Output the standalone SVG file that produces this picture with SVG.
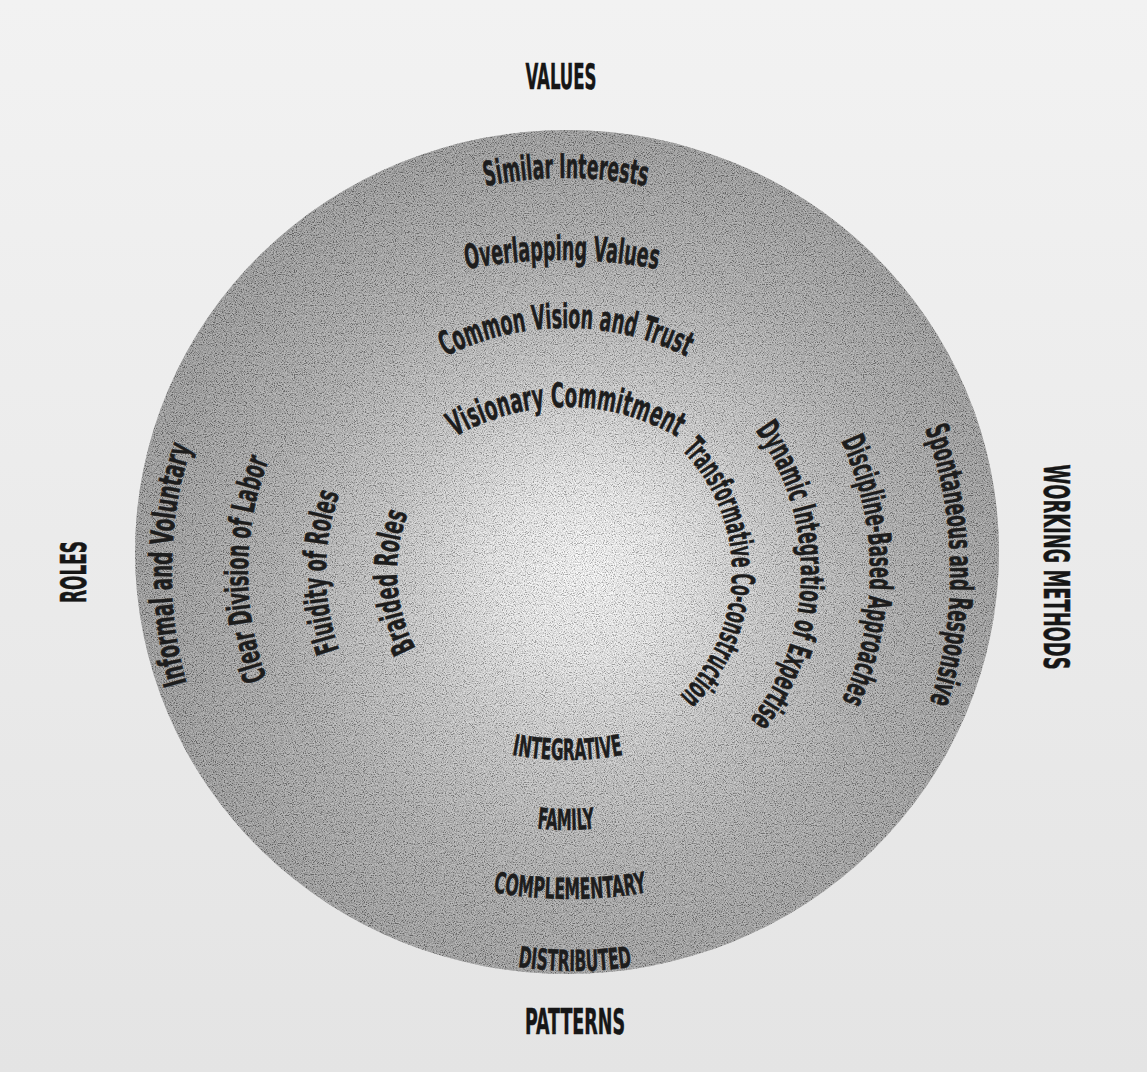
<svg xmlns="http://www.w3.org/2000/svg" xmlns:xlink="http://www.w3.org/1999/xlink" width="1147" height="1072" viewBox="0 0 1147 1072">
<style>
.t{font-family:"DejaVu Sans Condensed","Liberation Sans Narrow","Liberation Sans",sans-serif;font-stretch:condensed;font-weight:bold;fill:#1d1d1d;stroke:#1d1d1d;stroke-width:0.5px}
.top{font-size:34px}
.side{font-size:32px}
.bot{font-size:29px}
.outer{font-size:36px;fill:#161616;stroke:#161616}
</style>
<defs>
<linearGradient id="page" x1="0" y1="0" x2="0" y2="1">
<stop offset="0" stop-color="#f2f2f2"/>
<stop offset="1" stop-color="#e4e4e4"/>
</linearGradient>
<radialGradient id="disc" gradientUnits="userSpaceOnUse" cx="585" cy="568" r="432">
<stop offset="0" stop-color="#ffffff"/>
<stop offset="0.2" stop-color="#ededed"/>
<stop offset="0.45" stop-color="#c3c3c3"/>
<stop offset="0.72" stop-color="#a3a3a3"/>
<stop offset="1" stop-color="#8f8f8f"/>
</radialGradient>
<filter id="grain" filterUnits="objectBoundingBox" x="0" y="0" width="1" height="1">
<feTurbulence type="fractalNoise" baseFrequency="0.9" numOctaves="2" seed="7" result="n"/>
<feColorMatrix in="n" type="matrix" values="2.6 0 0 0 -0.8  2.6 0 0 0 -0.8  2.6 0 0 0 -0.8  0 0 0 0 0.32" result="g"/>
<feComposite in="g" in2="SourceGraphic" operator="in"/>
</filter>
<path id="pT4" d="M566 966 A394 394 0 1 1 566 178 A394 394 0 1 1 566 966"/>
<path id="pT3" d="M562 1260 A500 500 0 1 1 562 260 A500 500 0 1 1 562 1260"/>
<path id="pT2" d="M566 862 A267 267 0 1 1 566 328 A267 267 0 1 1 566 862"/>
<path id="pT1" d="M566 847 A220 220 0 1 1 566 407 A220 220 0 1 1 566 847"/>
<path id="pR1" d="M388 570.5 A172 172 0 1 1 732 573.5 A172 172 0 1 1 388 570.5"/>
<path id="pR2" d="M319 567.8 A241 241 0 1 1 801 576.2 A241 241 0 1 1 319 567.8"/>
<path id="pR3" d="M250 573.4 A310 310 0 1 1 870 570.6 A310 310 0 1 1 250 573.4"/>
<path id="pR4" d="M170.1 578.8 A390 390 0 1 1 949.9 565.2 A390 390 0 1 1 170.1 578.8"/>
<path id="pL4" d="M947.9 579.4 A388 388 0 1 1 172.1 564.6 A388 388 0 1 1 947.9 579.4"/>
<path id="pL3" d="M872 574.7 A312 312 0 1 1 248 569.3 A312 312 0 1 1 872 574.7"/>
<path id="pL2" d="M794 572 A234 234 0 1 1 326 572 A234 234 0 1 1 794 572"/>
<path id="pL1" d="M722.7 562 A163 163 0 1 1 397.3 582 A163 163 0 1 1 722.7 562"/>
<path id="pB1" d="M567.5 160 A300 300 0 1 0 567.5 760 A300 300 0 1 0 567.5 160"/>
<path id="pB2" d="M566 314 A258 258 0 1 0 566 830 A258 258 0 1 0 566 314"/>
<path id="pB3" d="M570 1 A449 449 0 1 0 570 899 A449 449 0 1 0 570 1"/>
<path id="pB4" d="M575 173 A399 399 0 1 0 575 971 A399 399 0 1 0 575 173"/>
</defs>

<rect x="0" y="0" width="1147" height="1072" fill="url(#page)"/>

<g id="disc-shape">
<ellipse cx="567" cy="552" rx="432" ry="422" fill="url(#disc)"/>
<ellipse cx="567" cy="552" rx="432" ry="422" fill="#000" filter="url(#grain)"/>
</g>

<g id="connectors"/>

<g id="values-group">
<g id="label-values"><text class="t outer" x="561" y="89" text-anchor="middle" textLength="71" lengthAdjust="spacingAndGlyphs">VALUES</text></g>
<g id="similar-interests"><text class="t top"><textPath xlink:href="#pT4" href="#pT4" startOffset="50%" text-anchor="middle" textLength="162" lengthAdjust="spacingAndGlyphs">Similar Interests</textPath></text></g>
<g id="overlapping-values"><text class="t top"><textPath xlink:href="#pT3" href="#pT3" startOffset="50%" text-anchor="middle" textLength="192" lengthAdjust="spacingAndGlyphs">Overlapping Values</textPath></text></g>
<g id="common-vision"><text class="t top"><textPath xlink:href="#pT2" href="#pT2" startOffset="50%" text-anchor="middle" textLength="250" lengthAdjust="spacingAndGlyphs">Common Vision and Trust</textPath></text></g>
<g id="visionary-commitment"><text class="t top"><textPath xlink:href="#pT1" href="#pT1" startOffset="50%" text-anchor="middle" textLength="233" lengthAdjust="spacingAndGlyphs">Visionary Commitment</textPath></text></g>
</g>

<g id="methods-group">
<g id="label-working-methods"><text class="t outer" transform="translate(1044 567) rotate(90)" x="0" y="0" text-anchor="middle" textLength="205" lengthAdjust="spacingAndGlyphs">WORKING METHODS</text></g>
<g id="transformative"><text class="t side"><textPath xlink:href="#pR1" href="#pR1" startOffset="50%" text-anchor="middle" textLength="273" lengthAdjust="spacingAndGlyphs">Transformative Co-construction</textPath></text></g>
<g id="dynamic-integration"><text class="t side"><textPath xlink:href="#pR2" href="#pR2" startOffset="50%" text-anchor="middle" textLength="311" lengthAdjust="spacingAndGlyphs">Dynamic Integration of Expertise</textPath></text></g>
<g id="discipline-based"><text class="t side"><textPath xlink:href="#pR3" href="#pR3" startOffset="50%" text-anchor="middle" textLength="268" lengthAdjust="spacingAndGlyphs">Discipline-Based Approaches</textPath></text></g>
<g id="spontaneous"><text class="t side"><textPath xlink:href="#pR4" href="#pR4" startOffset="50%" text-anchor="middle" textLength="279" lengthAdjust="spacingAndGlyphs">Spontaneous and Responsive</textPath></text></g>
</g>

<g id="roles-group">
<g id="label-roles"><text class="t outer" transform="translate(86 572) rotate(-90)" x="0" y="0" text-anchor="middle" textLength="62" lengthAdjust="spacingAndGlyphs">ROLES</text></g>
<g id="informal"><text class="t side"><textPath xlink:href="#pL4" href="#pL4" startOffset="50%" text-anchor="middle" textLength="240" lengthAdjust="spacingAndGlyphs">Informal and Voluntary</textPath></text></g>
<g id="clear-division"><text class="t side"><textPath xlink:href="#pL3" href="#pL3" startOffset="50%" text-anchor="middle" textLength="223" lengthAdjust="spacingAndGlyphs">Clear Division of Labor</textPath></text></g>
<g id="fluidity"><text class="t side"><textPath xlink:href="#pL2" href="#pL2" startOffset="50%" text-anchor="middle" textLength="159" lengthAdjust="spacingAndGlyphs">Fluidity of Roles</textPath></text></g>
<g id="braided"><text class="t side"><textPath xlink:href="#pL1" href="#pL1" startOffset="50%" text-anchor="middle" textLength="139" lengthAdjust="spacingAndGlyphs">Braided Roles</textPath></text></g>
</g>

<g id="patterns-group">
<g id="label-patterns"><text class="t outer" x="575" y="1034" text-anchor="middle" textLength="100" lengthAdjust="spacingAndGlyphs">PATTERNS</text></g>
<g id="integrative"><text class="t bot"><textPath xlink:href="#pB1" href="#pB1" startOffset="50%" text-anchor="middle" textLength="112" lengthAdjust="spacingAndGlyphs">INTEGRATIVE</textPath></text></g>
<g id="family"><text class="t bot"><textPath xlink:href="#pB2" href="#pB2" startOffset="50%" text-anchor="middle" textLength="58" lengthAdjust="spacingAndGlyphs">FAMILY</textPath></text></g>
<g id="complementary"><text class="t bot"><textPath xlink:href="#pB3" href="#pB3" startOffset="50%" text-anchor="middle" textLength="155" lengthAdjust="spacingAndGlyphs">COMPLEMENTARY</textPath></text></g>
<g id="distributed"><text class="t bot"><textPath xlink:href="#pB4" href="#pB4" startOffset="50%" text-anchor="middle" textLength="115" lengthAdjust="spacingAndGlyphs">DISTRIBUTED</textPath></text></g>
</g>
</svg>
